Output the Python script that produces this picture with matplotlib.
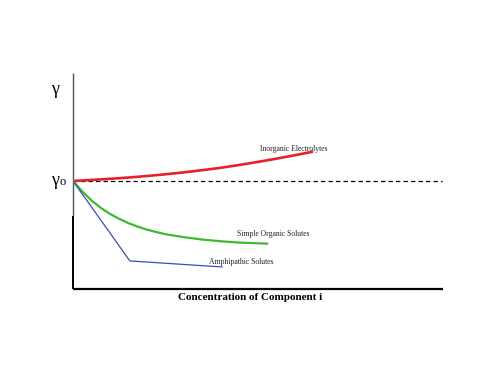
import matplotlib
matplotlib.use("Agg")
import matplotlib.pyplot as plt

# Data (x: concentration in arbitrary units 0..100, y: surface tension 0..100)
gamma0 = 50
red_x = [0, 5, 10, 15, 20, 25, 30, 35, 40, 45, 50, 55, 60, 64.8]
red_y = [50, 50.5, 51.0, 51.6, 52.3, 53.1, 54.0, 55.0, 56.1, 57.4, 58.8, 60.3, 61.9, 63.5]
green_x = [0, 2.5, 5, 7.5, 10, 12.5, 15, 17.5, 20, 22.5, 25, 30, 35, 40, 45, 52.6]
green_y = [50, 45.2, 41.0, 37.6, 34.8, 32.5, 30.5, 28.9, 27.5, 26.4, 25.4, 24.0, 22.9, 22.1, 21.5, 21.0]
blue_x = [0, 15.4, 40.4]
blue_y = [50, 13.0, 10.2]
labels = ["Inorganic Electrolytes", "Simple Organic Solutes", "Amphipathic Solutes"]

fig = plt.figure(figsize=(5, 3.86), dpi=100)
ax = fig.add_axes([0.146, 0.2513, 0.738, 0.5596])
ax.set_xlim(0, 100)
ax.set_ylim(0, 100)
for s in ax.spines.values():
    s.set_visible(False)
ax.set_xticks([])
ax.set_yticks([])

# axes lines
ax.plot([0, 0], [100, 34], color='#555555', lw=1.0, clip_on=False, solid_capstyle='butt')
ax.plot([0, 0], [34, 0], color='black', lw=1.4, clip_on=False, solid_capstyle='butt')
ax.plot([0, 100.3], [0, 0], color='black', lw=1.6, clip_on=False, solid_capstyle='butt')

ax.plot([0, 100], [gamma0, gamma0], color='black', lw=0.9, dashes=(3.5, 2.5), clip_on=False)

ax.plot(red_x, red_y, color='#e8202a', lw=1.9, solid_capstyle='round')
ax.plot(green_x, green_y, color='#3dbb2c', lw=1.6)
ax.plot(blue_x, blue_y, color='#3b4fb0', lw=0.9)

tf = dict(family='Liberation Serif', fontsize=5.5, color='#222222')
ax.text(59.9, 64.8, labels[0], ha='center', va='center', **tf)
ax.text(54.2, 25.5, labels[1], ha='center', va='center', **tf)
ax.text(45.7, 12.5, labels[2], ha='center', va='center', **tf)

fig.text(0.110, 0.768, 'γ', family='Liberation Serif', fontsize=13, ha='center', va='center')
fig.text(0.110, 0.533, 'γ', family='Liberation Serif', fontsize=13, ha='center', va='center')
fig.text(0.125, 0.528, 'o', family='Liberation Serif', fontsize=9, ha='center', va='center')
fig.text(0.5, 0.228, 'Concentration of Component i', family='Liberation Serif',
         fontsize=8, fontweight='bold', ha='center', va='center')

fig.savefig('out.png', dpi=100)
